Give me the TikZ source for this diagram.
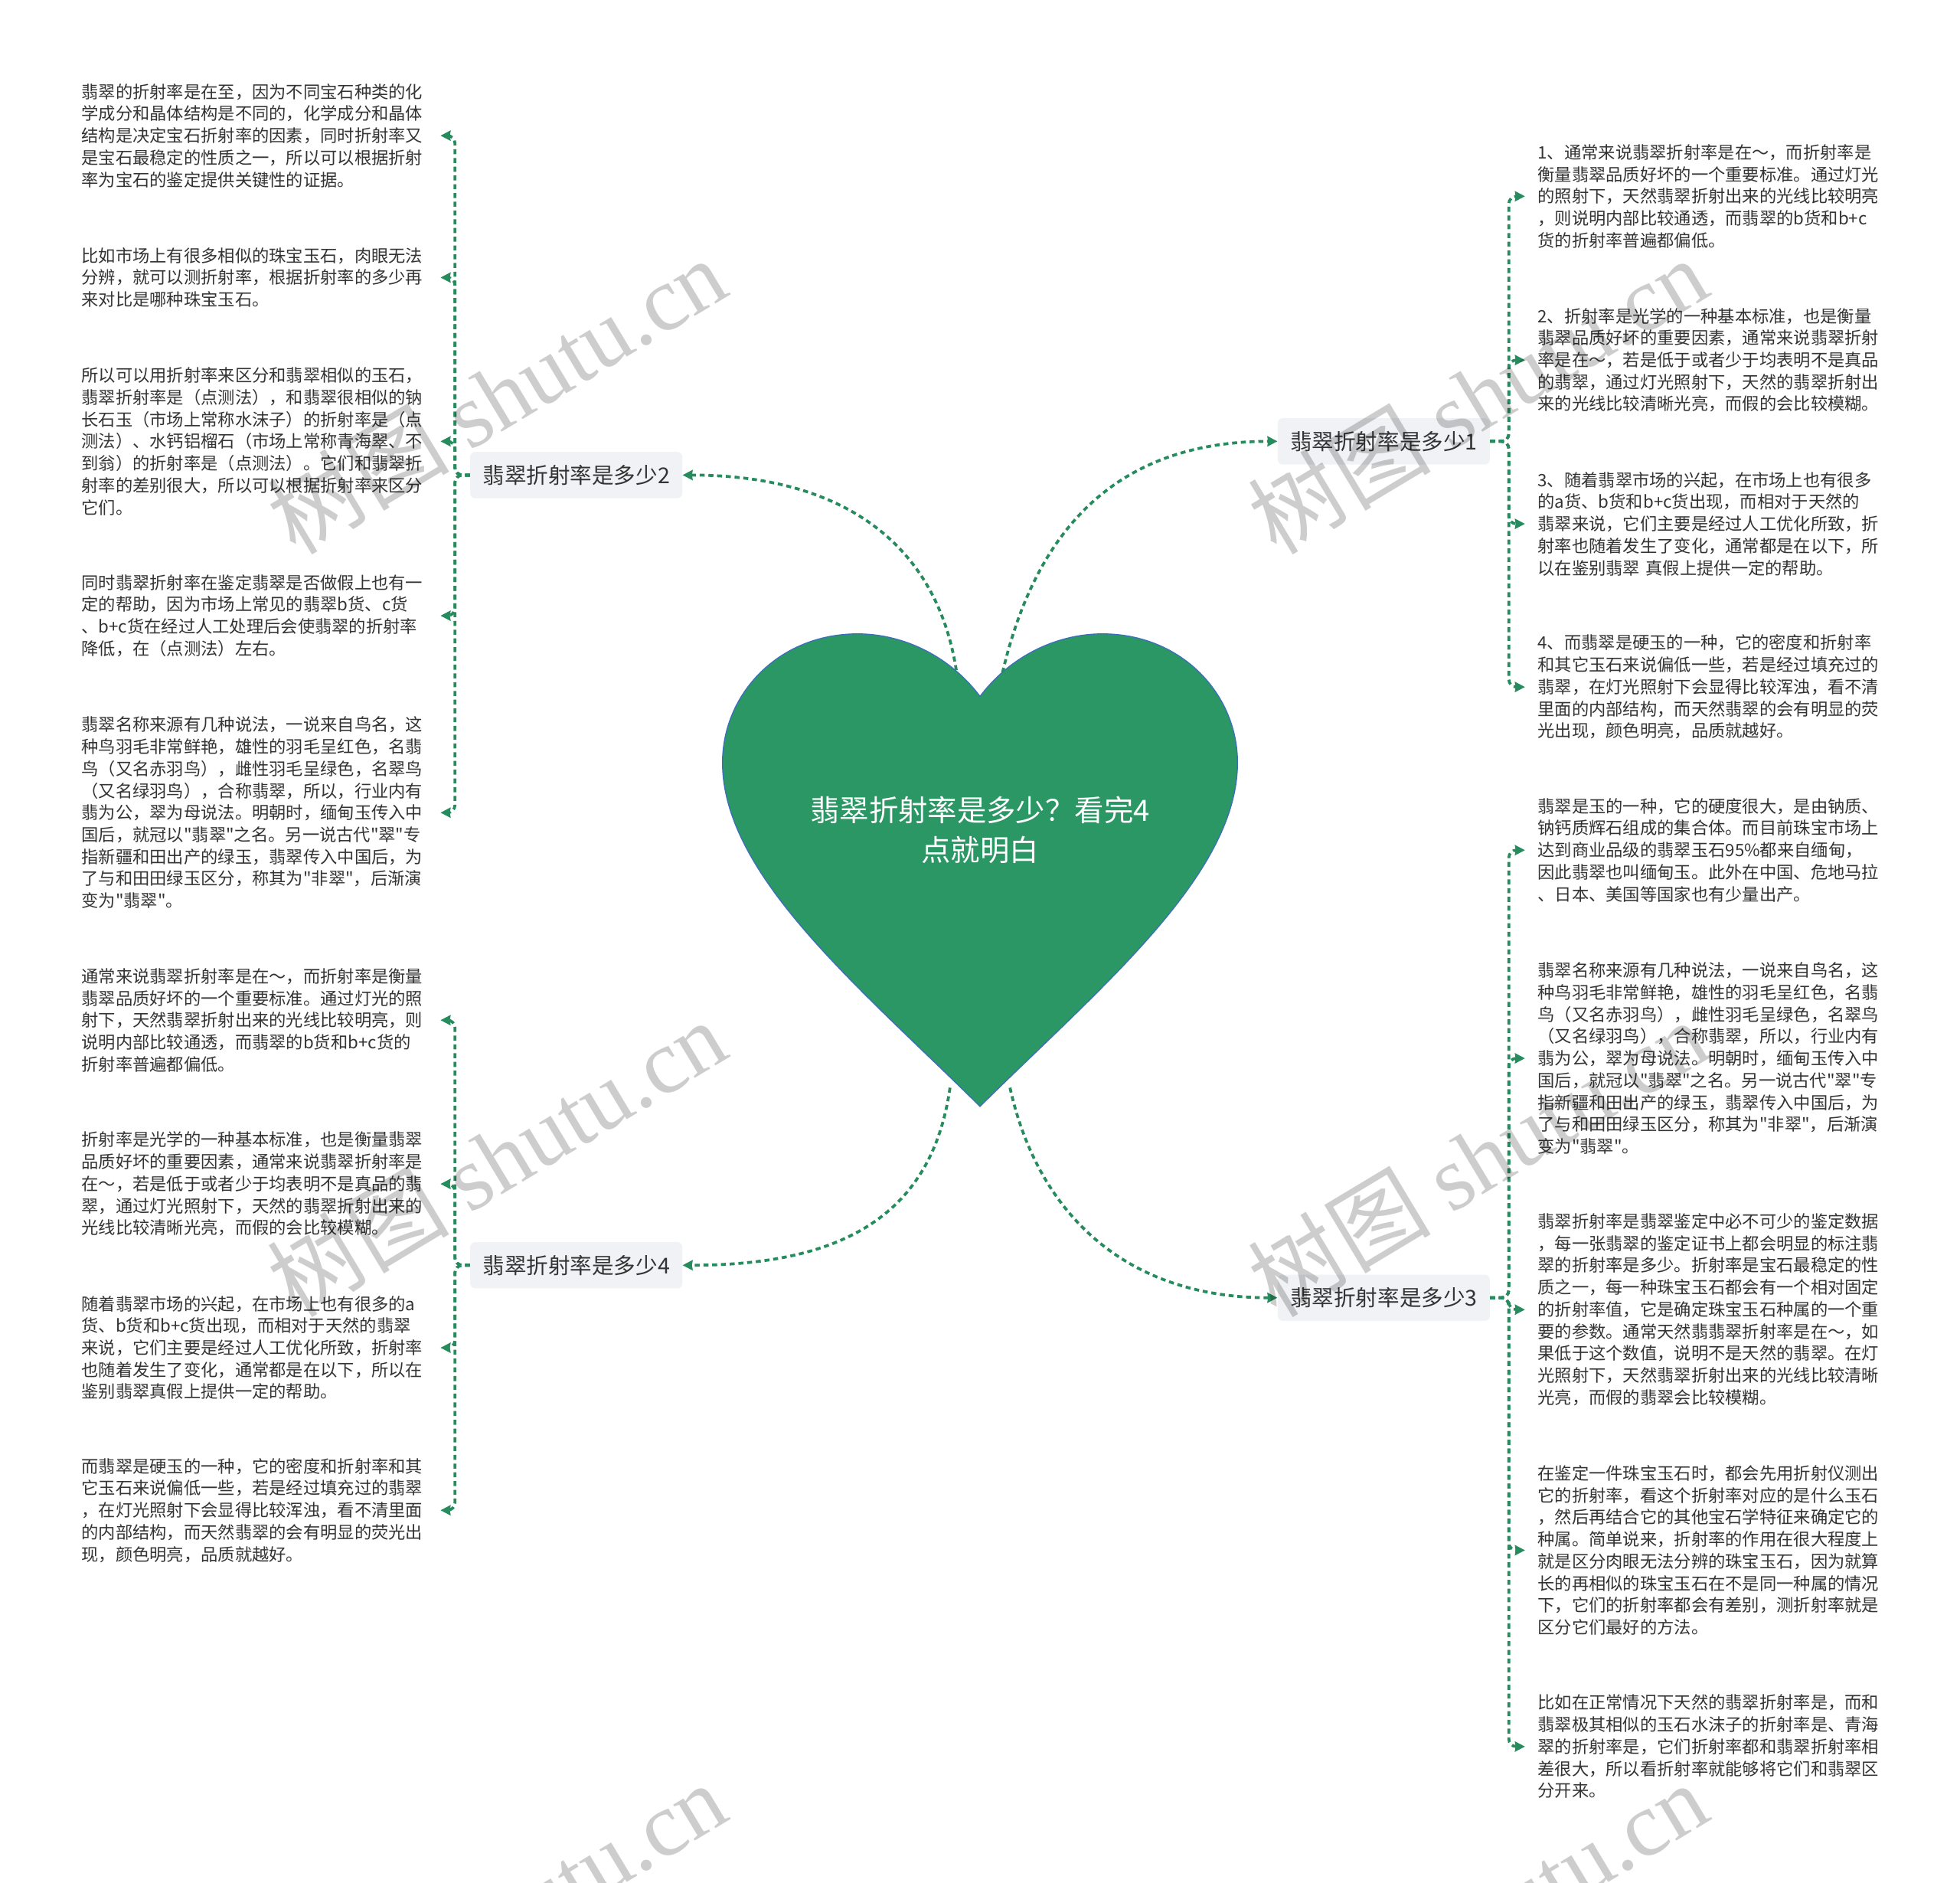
\documentclass[tikz,border=0pt]{standalone}
\usepackage{fontspec}
\setmainfont{Noto Sans CJK SC}[Ligatures=TeXOff]
\newfontfamily\wmfont{Liberation Serif}
\usepackage{xcolor}
\usepackage{tikz}
\usetikzlibrary{arrows.meta, positioning, calc}
\definecolor{themegreen}{RGB}{42, 151, 101}
\definecolor{linkgreen}{RGB}{38, 140, 94}
\definecolor{heartblue}{RGB}{60, 110, 190}
\definecolor{boxgray}{RGB}{240, 242, 245}
\definecolor{textgray}{RGB}{51, 51, 51}
\definecolor{markgray}{RGB}{205, 205, 205}

% text that stands twice in the map
\newcommand{\namestory}{翡翠名称来源有几种说法，一说来自鸟名，这\\
种鸟羽毛非常鲜艳，雄性的羽毛呈红色，名翡\\
鸟（又名赤羽鸟），雌性羽毛呈绿色，名翠鸟\\
（又名绿羽鸟），合称翡翠，所以，行业内有\\
翡为公，翠为母说法。明朝时，缅甸玉传入中\\
国后，就冠以"翡翠"之名。另一说古代"翠"专\\
指新疆和田出产的绿玉，翡翠传入中国后，为\\
了与和田田绿玉区分，称其为"非翠"，后渐演\\
变为"翡翠"。}

\begin{document}
\begin{tikzpicture}[x=1pt, y=-1pt, >={Stealth[length=8pt, width=8pt, inset=0.5pt]},
    topic/.style={fill=boxgray, rounded corners=4pt, text=textgray,
        font=\fontsize{17.5}{20}\selectfont, inner xsep=10pt, minimum height=37pt},
    leaf/.style={anchor=west, text width=275pt, align=left, inner sep=0pt,
        text=textgray, font=\fontsize{13.65}{17.6}\selectfont},
    linkline/.style={->, linkgreen, line width=2.3pt, dash pattern=on 4pt off 3pt},
    wmark/.style={markgray, rotate=31, font=\fontsize{73}{80}\selectfont, blend mode=multiply}]
    \useasboundingbox (0,0) rectangle (1568,1506);

    % heart
    \filldraw[fill=themegreen, draw=heartblue, line width=0.8pt]
        (784,557) .. controls (808,525) and (845,507) .. (882,507)
        .. controls (945,507) and (990,555) .. (990,610)
        .. controls (990,700) and (880,790) .. (784,885)
        .. controls (688,790) and (578,700) .. (578,610)
        .. controls (578,555) and (623,507) .. (686,507)
        .. controls (723,507) and (760,525) .. (784,557) -- cycle;
    \node[text=white, align=center, font=\fontsize{23.5}{32}\selectfont] (root) at (784,664)
        {翡翠折射率是多少？看完4\\点就明白};
    \coordinate (h1) at (802,538);
    \coordinate (h2) at (765,536);
    \coordinate (h3) at (808,870);
    \coordinate (h4) at (760,870);

    % topics
    \node[topic] (q1) at (1107,353) {翡翠折射率是多少1};
    \node[topic] (q2) at (461,380) {翡翠折射率是多少2};
    \node[topic] (q3) at (1107,1038) {翡翠折射率是多少3};
    \node[topic] (q4) at (461,1012) {翡翠折射率是多少4};

    \draw[linkline] (h1) .. controls (825,440) and (880,353) .. (q1.west);
    \draw[linkline] (h2) .. controls (750,440) and (680,380) .. (q2.east);
    \draw[linkline] (h3) .. controls (830,970) and (900,1038) .. (q3.west);
    \draw[linkline] (h4) .. controls (745,975) and (670,1012) .. (q4.east);

    % left side, topic 2
    \node[leaf] (a1) at (65,108.5) {翡翠的折射率是在至，因为不同宝石种类的化\\
学成分和晶体结构是不同的，化学成分和晶体\\
结构是决定宝石折射率的因素，同时折射率又\\
是宝石最稳定的性质之一，所以可以根据折射\\
率为宝石的鉴定提供关键性的证据。};
    \node[leaf] (a2) at (65,222) {比如市场上有很多相似的珠宝玉石，肉眼无法\\
分辨，就可以测折射率，根据折射率的多少再\\
来对比是哪种珠宝玉石。};
    \node[leaf] (a3) at (65,353) {所以可以用折射率来区分和翡翠相似的玉石，\\
翡翠折射率是（点测法），和翡翠很相似的钠\\
长石玉（市场上常称水沫子）的折射率是（点\\
测法）、水钙铝榴石（市场上常称青海翠、不\\
到翁）的折射率是（点测法）。它们和翡翠折\\
射率的差别很大，所以可以根据折射率来区分\\
它们。};
    \node[leaf] (a4) at (65,492.5) {同时翡翠折射率在鉴定翡翠是否做假上也有一\\
定的帮助，因为市场上常见的翡翠b货、c货\\
、b+c货在经过人工处理后会使翡翠的折射率\\
降低，在（点测法）左右。};
    \node[leaf] (a5) at (65,650) {\namestory};

    % left side, topic 4
    \node[leaf] (d1) at (65,816) {通常来说翡翠折射率是在～，而折射率是衡量\\
翡翠品质好坏的一个重要标准。通过灯光的照\\
射下，天然翡翠折射出来的光线比较明亮，则\\
说明内部比较通透，而翡翠的b货和b+c货的\\
折射率普遍都偏低。};
    \node[leaf] (d2) at (65,947) {折射率是光学的一种基本标准，也是衡量翡翠\\
品质好坏的重要因素，通常来说翡翠折射率是\\
在～，若是低于或者少于均表明不是真品的翡\\
翠，通过灯光照射下，天然的翡翠折射出来的\\
光线比较清晰光亮，而假的会比较模糊。};
    \node[leaf] (d3) at (65,1078) {随着翡翠市场的兴起，在市场上也有很多的a\\
货、b货和b+c货出现，而相对于天然的翡翠\\
来说，它们主要是经过人工优化所致，折射率\\
也随着发生了变化，通常都是在以下，所以在\\
鉴别翡翠真假上提供一定的帮助。};
    \node[leaf] (d4) at (65,1208) {而翡翠是硬玉的一种，它的密度和折射率和其\\
它玉石来说偏低一些，若是经过填充过的翡翠\\
，在灯光照射下会显得比较浑浊，看不清里面\\
的内部结构，而天然翡翠的会有明显的荧光出\\
现，颜色明亮，品质就越好。};

    % right side, topic 1
    \node[leaf] (b1) at (1230,157) {1、通常来说翡翠折射率是在～，而折射率是\\
衡量翡翠品质好坏的一个重要标准。通过灯光\\
的照射下，天然翡翠折射出来的光线比较明亮\\
，则说明内部比较通透，而翡翠的b货和b+c\\
货的折射率普遍都偏低。};
    \node[leaf] (b2) at (1230,288) {2、折射率是光学的一种基本标准，也是衡量\\
翡翠品质好坏的重要因素，通常来说翡翠折射\\
率是在～，若是低于或者少于均表明不是真品\\
的翡翠，通过灯光照射下，天然的翡翠折射出\\
来的光线比较清晰光亮，而假的会比较模糊。};
    \node[leaf] (b3) at (1230,419) {3、随着翡翠市场的兴起，在市场上也有很多\\
的a货、b货和b+c货出现，而相对于天然的\\
翡翠来说，它们主要是经过人工优化所致，折\\
射率也随着发生了变化，通常都是在以下，所\\
以在鉴别翡翠 真假上提供一定的帮助。};
    \node[leaf] (b4) at (1230,549.5) {4、而翡翠是硬玉的一种，它的密度和折射率\\
和其它玉石来说偏低一些，若是经过填充过的\\
翡翠，在灯光照射下会显得比较浑浊，看不清\\
里面的内部结构，而天然翡翠的会有明显的荧\\
光出现，颜色明亮，品质就越好。};

    % right side, topic 3
    \node[leaf] (c1) at (1230,680) {翡翠是玉的一种，它的硬度很大，是由钠质、\\
钠钙质辉石组成的集合体。而目前珠宝市场上\\
达到商业品级的翡翠玉石95\%都来自缅甸，\\
因此翡翠也叫缅甸玉。此外在中国、危地马拉\\
、日本、美国等国家也有少量出产。};
    \node[leaf] (c2) at (1230,846.5) {\namestory};
    \node[leaf] (c3) at (1230,1047.5) {翡翠折射率是翡翠鉴定中必不可少的鉴定数据\\
，每一张翡翠的鉴定证书上都会明显的标注翡\\
翠的折射率是多少。折射率是宝石最稳定的性\\
质之一，每一种珠宝玉石都会有一个相对固定\\
的折射率值，它是确定珠宝玉石种属的一个重\\
要的参数。通常天然翡翡翠折射率是在～，如\\
果低于这个数值，说明不是天然的翡翠。在灯\\
光照射下，天然翡翠折射出来的光线比较清晰\\
光亮，而假的翡翠会比较模糊。};
    \node[leaf] (c4) at (1230,1240) {在鉴定一件珠宝玉石时，都会先用折射仪测出\\
它的折射率，看这个折射率对应的是什么玉石\\
，然后再结合它的其他宝石学特征来确定它的\\
种属。简单说来，折射率的作用在很大程度上\\
就是区分肉眼无法分辨的珠宝玉石，因为就算\\
长的再相似的珠宝玉石在不是同一种属的情况\\
下，它们的折射率都会有差别，测折射率就是\\
区分它们最好的方法。};
    \node[leaf] (c5) at (1230,1397) {比如在正常情况下天然的翡翠折射率是，而和\\
翡翠极其相似的玉石水沫子的折射率是、青海\\
翠的折射率是，它们折射率都和翡翠折射率相\\
差很大，所以看折射率就能够将它们和翡翠区\\
分开来。};

    % brackets
    \foreach \n in {a1,a2,a3,a4,a5}
        \draw[linkline, rounded corners=6pt] (q2.west) -- ++(-12,0) |- ([xshift=12pt]\n.east);
    \foreach \n in {d1,d2,d3,d4}
        \draw[linkline, rounded corners=6pt] (q4.west) -- ++(-12,0) |- ([xshift=12pt]\n.east);
    \foreach \n in {b1,b2,b3,b4}
        \draw[linkline, rounded corners=6pt] (q1.east) -- ++(15,0) |- ([xshift=-10pt]\n.west);
    \foreach \n in {c1,c2,c3,c4,c5}
        \draw[linkline, rounded corners=6pt] (q3.east) -- ++(15,0) |- ([xshift=-10pt]\n.west);

    % watermarks
    \foreach \x in {397,1182}
        \foreach \y in {316,926,1536}
            \node[wmark] at (\x,\y) {树图 {\wmfont shutu.cn}};
\end{tikzpicture}
\end{document}
